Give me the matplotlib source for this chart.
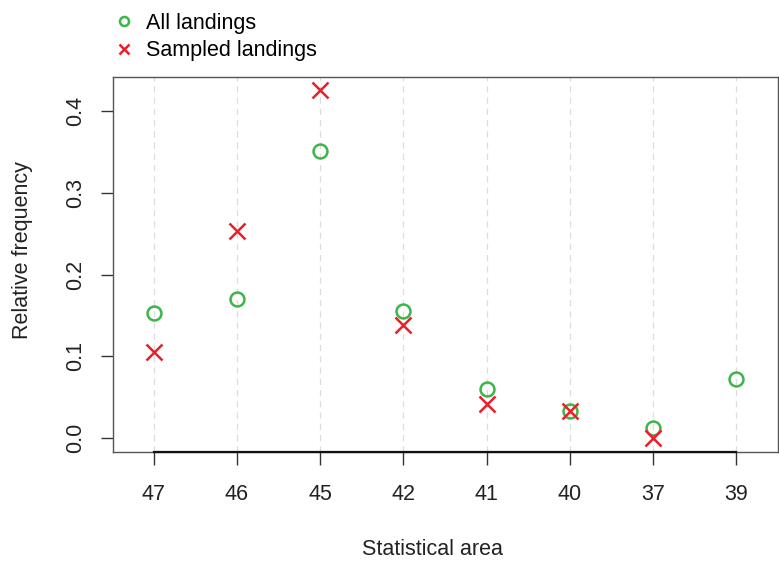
import matplotlib.pyplot as plt
import numpy as np

plt.rcParams['font.family'] = ['Liberation Sans', 'DejaVu Sans']

# areas in the order shown on the x axis
areas = ['47', '46', '45', '42', '41', '40', '37', '39']
all_landings = [0.153, 0.170, 0.351, 0.155, 0.060, 0.033, 0.012, 0.072]
sampled_landings = [0.106, 0.254, 0.426, 0.138, 0.042, 0.033, 0.000, np.nan]

verde = '#3DB54A'
vermelho = '#E8202A'

fig = plt.figure(figsize=(7.79, 5.63), dpi=100)
ax = fig.add_axes([0.145, 0.197, 0.8537, 0.666])

x = np.arange(len(areas))
for xi in x:
    ax.axvline(xi, color='#dddddd', linestyle=(0, (5, 4)), linewidth=0.9, zorder=0)

ax.plot(x, all_landings, 'o', markersize=10, markerfacecolor='none',
        markeredgecolor=verde, markeredgewidth=1.8, label='All landings')
ax.plot(x, sampled_landings, 'x', markersize=12, color=vermelho,
        markeredgewidth=1.8, label='Sampled landings')

ax.set_xlim(-0.49, 7.5)
ax.set_ylim(-0.017, 0.4416)
ax.set_xticks(x)
ax.set_xticklabels(areas)
ax.set_yticks([0.0, 0.1, 0.2, 0.3, 0.4])
ax.set_yticklabels(['0.0', '0.1', '0.2', '0.3', '0.4'], rotation=90, va='center')
ax.tick_params(axis='both', direction='out', length=9, width=1, color='#333333',
               labelsize=15.5, labelcolor='#222222')
ax.tick_params(axis='x', pad=14)
ax.tick_params(axis='y', pad=10)

for s in ax.spines.values():
    s.set_color('#555555')
    s.set_linewidth(1)
# linha do eixo x mais escura entre primeiro e ultimo tick
ax.plot([x[0], x[-1]], [-0.017, -0.017], color='#111111', linewidth=1.6,
        clip_on=False, zorder=5)

ax.set_xlabel('Statistical area', fontsize=15.5, color='#222222')
ax.set_ylabel('Relative frequency', fontsize=15.5, color='#222222')
ax.xaxis.set_label_coords(0.48, -0.232)
ax.yaxis.set_label_coords(-0.12, 0.54)

fig.legend(loc='upper left', bbox_to_anchor=(0.12, 1.012), frameon=False,
           fontsize=15.5, handletextpad=0.55, labelspacing=0.3, handlelength=1.0,
           markerscale=0.65)

fig.savefig('out.png', dpi=100)
